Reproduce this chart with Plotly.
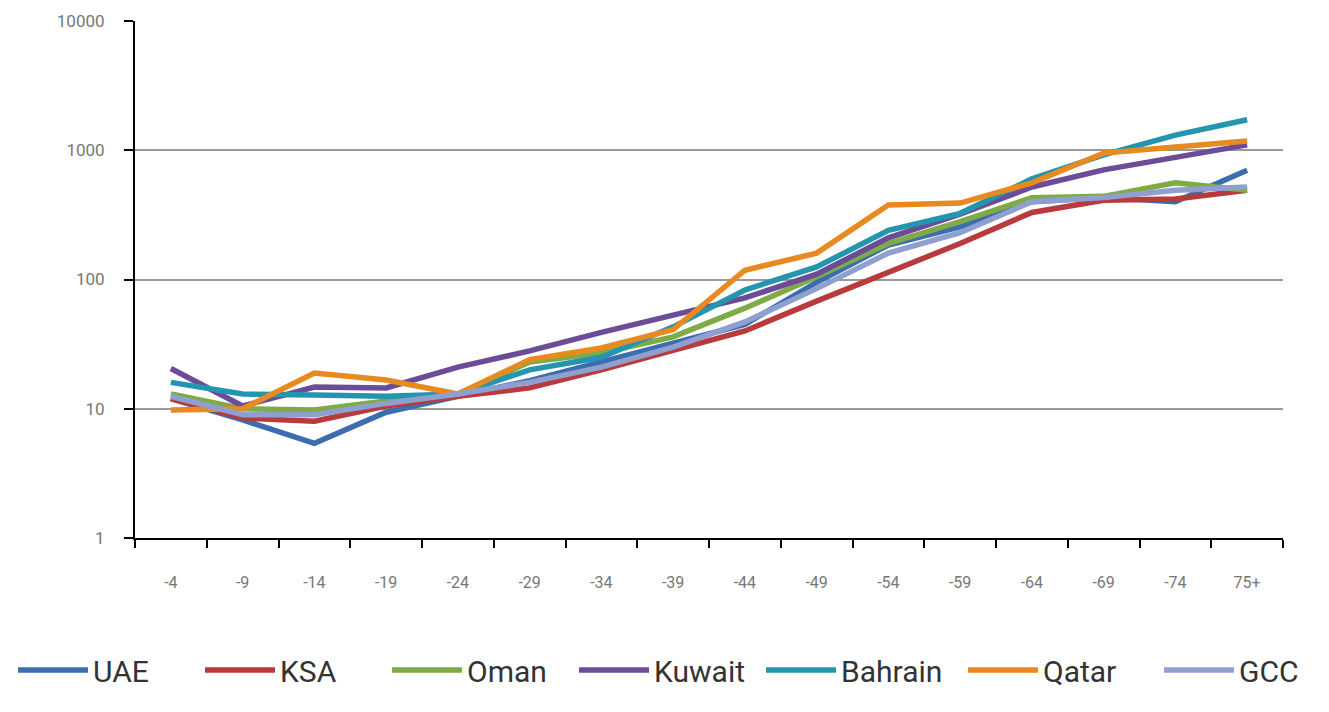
import plotly.graph_objects as go

# Age groups (upper bound of each five-year band)
age_groups = ["-4", "-9", "-14", "-19", "-24", "-29", "-34", "-39",
              "-44", "-49", "-54", "-59", "-64", "-69", "-74", "75+"]

# Rates per age group, one list per country
uae = [12, 8.2, 5.4, 9.4, 12.5, 16.5, 23, 32, 45, 95, 185, 255, 400, 430, 400, 700]
ksa = [12, 8.5, 8, 10.5, 12.5, 14.5, 20, 28, 40, 68, 115, 190, 330, 410, 420, 490]
oman = [13, 10, 9.8, 11.5, 13, 23, 27, 36, 60, 105, 190, 280, 430, 440, 560, 490]
kuwait = [20.5, 10.5, 14.7, 14.5, 21, 28, 39, 53, 72, 110, 210, 320, 520, 705, 890, 1100]
bahrain = [16, 13, 12.8, 12.5, 13, 20, 25, 43, 83, 125, 240, 325, 600, 920, 1310, 1720]
qatar = [9.8, 10, 18.9, 16.7, 13, 24, 29.5, 41, 118, 160, 377, 390, 560, 950, 1060, 1180]
gcc = [12.5, 9, 9, 11, 13, 16, 21, 30, 47, 85, 160, 230, 400, 430, 490, 520]

y_ticks = [1, 10, 100, 1000, 10000]
y_tick_text = ["1", "10", "100", "1000", "10000"]

# name, values, colour, legend the entry goes into
series = [
    ("UAE", uae, "#3b6daf", "legend"),
    ("KSA", ksa, "#b83a3c", "legend"),
    ("Oman", oman, "#7eab45", "legend"),
    ("Kuwait", kuwait, "#6c4b98", "legend"),
    ("Bahrain", bahrain, "#2495ae", "legend"),
    ("Qatar", qatar, "#e88a1f", "legend2"),
    ("GCC", gcc, "#8f9fd0", "legend2"),
]

fig = go.Figure()
for name, values, color, legend_ref in series:
    fig.add_trace(go.Scatter(
        x=age_groups, y=values, name=name, mode="lines",
        line=dict(color=color, width=5.5),
        legend=legend_ref,
    ))

x_tick_font = dict(family="Roboto", size=16, color="#777777")
y_tick_font = dict(family="Roboto", size=17, color="#777777")
legend_font = dict(family="Roboto", size=30, color="#333333")

fig.update_layout(
    width=1329, height=712,
    margin=dict(l=135, r=46, t=21, b=174),
    paper_bgcolor="white",
    plot_bgcolor="white",
    showlegend=True,
    legend=dict(
        orientation="h",
        xref="container", yref="container",
        x=0.0098, y=0.059, xanchor="left", yanchor="middle",
        entrywidth=102, entrywidthmode="pixels",
        itemwidth=70,
        font=legend_font,
        traceorder="normal",
    ),
    legend2=dict(
        orientation="h",
        xref="container", yref="container",
        x=0.7246, y=0.059, xanchor="left", yanchor="middle",
        entrywidth=111, entrywidthmode="pixels",
        itemwidth=70,
        font=legend_font,
        traceorder="normal",
    ),
    xaxis=dict(
        type="category",
        range=[-0.5, 15.5],
        showline=True, linecolor="black", linewidth=2,
        ticks="outside", tickson="boundaries", ticklen=8, tickwidth=2,
        tickcolor="black",
        showgrid=False, zeroline=False,
        tickfont=x_tick_font,
        ticklabelstandoff=29,
    ),
    yaxis=dict(
        type="log",
        range=[0, 4],
        tickvals=y_ticks, ticktext=y_tick_text,
        showline=True, linecolor="black", linewidth=2,
        ticks="outside", ticklen=9, tickwidth=2, tickcolor="black",
        showgrid=True, gridcolor="#9a9a9a", gridwidth=1.5,
        zeroline=False,
        tickfont=y_tick_font,
        ticklabelstandoff=16,
    ),
)

fig.write_html("out.html")
